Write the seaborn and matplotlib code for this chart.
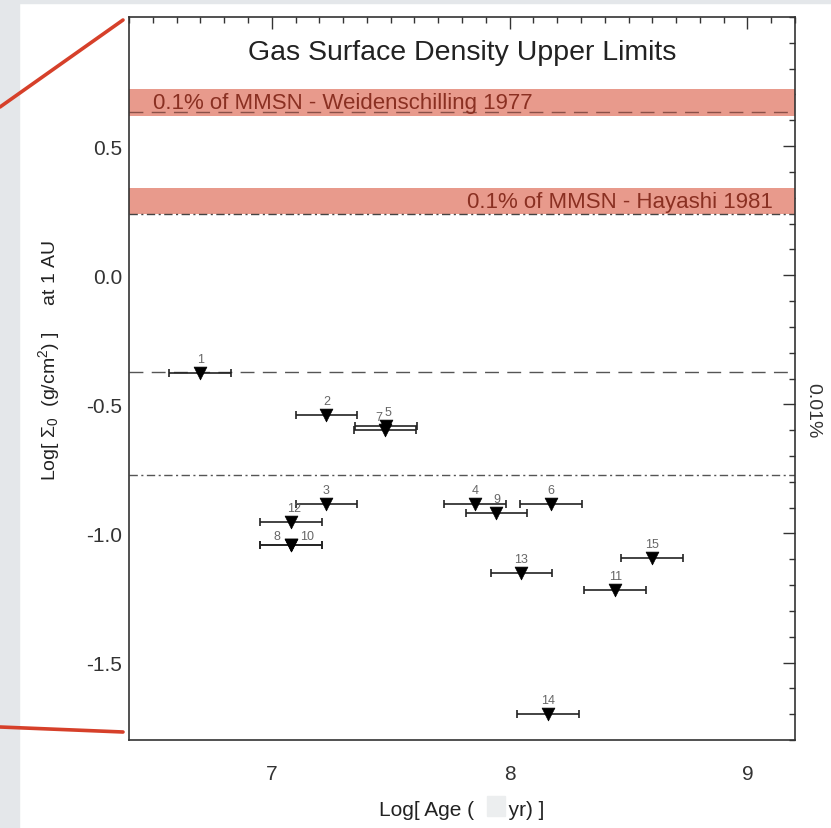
"""
Gas surface density upper limits vs stellar age, redrawn with seaborn.
"""

import seaborn as sns
import matplotlib.pyplot as plt
import pandas as pd
from matplotlib.ticker import MultipleLocator, FixedLocator
from matplotlib.patches import Rectangle
from matplotlib.lines import Line2D

# data
star_ids = ['1', '2', '3', '4', '5', '6', '7', '8', '9', '10', '11', '12', '13', '14', '15']
log_age = [6.70, 7.23, 7.23, 7.855, 7.48, 8.175, 7.475, 7.08, 7.945, 7.08, 8.445, 7.08, 8.05, 8.16, 8.60]
log_sigma = [-0.38, -0.54, -0.885, -0.885, -0.585, -0.885, -0.60, -1.045, -0.92, -1.045,
             -1.22, -0.955, -1.155, -1.70, -1.095]
age_err = [0.13, 0.13, 0.13, 0.13, 0.13, 0.13, 0.13, 0.13, 0.13, 0.13, 0.13, 0.13, 0.13, 0.13, 0.13]

weid_level = 0.632
weid_band = (0.616, 0.721)
hay_level = 0.236
hay_band = (0.236, 0.336)
weid_low = -0.376
hay_low = -0.775

x_ticks = [7, 8, 9]
y_ticks = [0.5, 0.0, -0.5, -1.0, -1.5]

# label offsets in pixels (dx, dy) for crowded ids
label_offsets = {'7': (-6, 13), '5': (2, 14), '12': (3, 14), '8': (-14, 9), '10': (16, 9)}

df = pd.DataFrame({'id': star_ids, 'age': log_age, 'sigma': log_sigma, 'err': age_err})

sns.set_style('white')
plt.rcParams['font.family'] = ['Liberation Sans', 'DejaVu Sans']
plt.rcParams['mathtext.fontset'] = 'custom'
plt.rcParams['mathtext.rm'] = 'Liberation Sans'
plt.rcParams['mathtext.it'] = 'Liberation Sans'

W, H = 831, 829
fig = plt.figure(figsize=(W / 100, H / 100), dpi=100, facecolor='white')
ax = fig.add_axes([129 / W, 1 - 741 / H, (795 - 129) / W, (741 - 18) / H])

# grey page strips
grey = '#e4e7ea'
fig.patches.append(Rectangle((0, 0), 19 / W, 1, transform=fig.transFigure, color=grey, zorder=0))
fig.patches.append(Rectangle((0, 1 - 4 / H), 1, 4 / H, transform=fig.transFigure, color=grey, zorder=0))

# reference levels
dash_col = '#555555'
ax.axhspan(*weid_band, color='#e89a8c', zorder=1, lw=0)
ax.axhspan(*hay_band, color='#e89a8c', zorder=1, lw=0)
ax.axhline(weid_level, color='#8a5048', lw=1.0, dashes=(10, 6), zorder=2)
ax.axhline(hay_level, color='#444444', lw=1.0, dashes=(6, 2.5, 1.5, 2.5), zorder=2)
ax.axhline(weid_low, color=dash_col, lw=1.0, dashes=(10, 6), zorder=2)
ax.axhline(hay_low, color=dash_col, lw=1.0, dashes=(6, 2.5, 1.5, 2.5), zorder=2)

ax.text(0.036, 0.668, '0.1% of MMSN - Weidenschilling 1977', transform=ax.get_yaxis_transform(),
        fontsize=16, color='#8a3022', ha='left', va='center', zorder=3)
ax.text(0.967, 0.284, '0.1% of MMSN - Hayashi 1981', transform=ax.get_yaxis_transform(),
        fontsize=16, color='#8a3022', ha='right', va='center', zorder=3)

# error bars and markers
ax.errorbar(df['age'], df['sigma'], xerr=df['err'], fmt='none', ecolor='#222222',
            elinewidth=1.2, capsize=2.9, capthick=1.2, zorder=4)
sns.scatterplot(data=df, x='age', y='sigma', marker='v', color='black', s=85,
                edgecolor='black', linewidth=0.5, ax=ax, zorder=5, legend=False)

for _, row in df.iterrows():
    dx, dy = label_offsets.get(row['id'], (0, 14))
    ax.annotate(row['id'], (row['age'], row['sigma']), xytext=(dx * 0.72, dy * 0.72),
                textcoords='offset points', ha='center', va='center', fontsize=9,
                color='#666666', zorder=6)

ax.set_xlim(6.4, 9.2)
ax.set_ylim(-1.8, 1.0)
ax.xaxis.set_major_locator(FixedLocator(x_ticks))
ax.yaxis.set_major_locator(FixedLocator(y_ticks))
ax.xaxis.set_minor_locator(MultipleLocator(0.1))
ax.yaxis.set_minor_locator(MultipleLocator(0.1))
ax.set_xticklabels([str(t) for t in x_ticks])
ax.set_yticklabels(['%.1f' % t for t in y_ticks])
ax.tick_params(which='both', direction='in', top=True, right=True, color='#333333', width=1.0)
ax.tick_params(which='major', length=8.6)
ax.tick_params(which='minor', length=4.5)
ax.tick_params(axis='x', which='major', pad=17.5, labelsize=15, labelcolor='#333333')
ax.tick_params(axis='y', which='major', pad=5, labelsize=15, labelcolor='#333333')
for sp in ax.spines.values():
    sp.set_color('#333333')
    sp.set_linewidth(1.2)

ax.set_xlabel('Log[ Age (      yr) ]', fontsize=15, color='#222222')
ax.xaxis.set_label_coords(0.5, -0.083)
ax.set_ylabel(r'Log[ $\Sigma_0$  (g/cm$^2$) ]     at 1 AU', fontsize=14, color='#222222')
ax.yaxis.set_label_coords(-0.10, 0.526)

# masked unit in the x label
fig.patches.append(Rectangle((487 / W, 1 - 817 / H), 18 / W, 20 / H, transform=fig.transFigure,
                             color='#eceeef', zorder=5))

ax.text(0.5, 0.952, 'Gas Surface Density Upper Limits', transform=ax.transAxes,
        fontsize=20.5, color='#222222', ha='center', va='center')
fig.text(813 / W, 1 - 411 / H, '0.01%', rotation=-90, fontsize=14, color='#333333',
         ha='center', va='center')

# red zoom connector lines
red = '#d6402a'
fig.add_artist(Line2D([0, 123 / W], [1 - 108 / H, 1 - 21 / H], transform=fig.transFigure,
                      color=red, lw=2.6))
fig.add_artist(Line2D([0, 123 / W], [1 - 728 / H, 1 - 733 / H], transform=fig.transFigure,
                      color=red, lw=2.6))

fig.savefig('out.png', dpi=100, facecolor='white')
